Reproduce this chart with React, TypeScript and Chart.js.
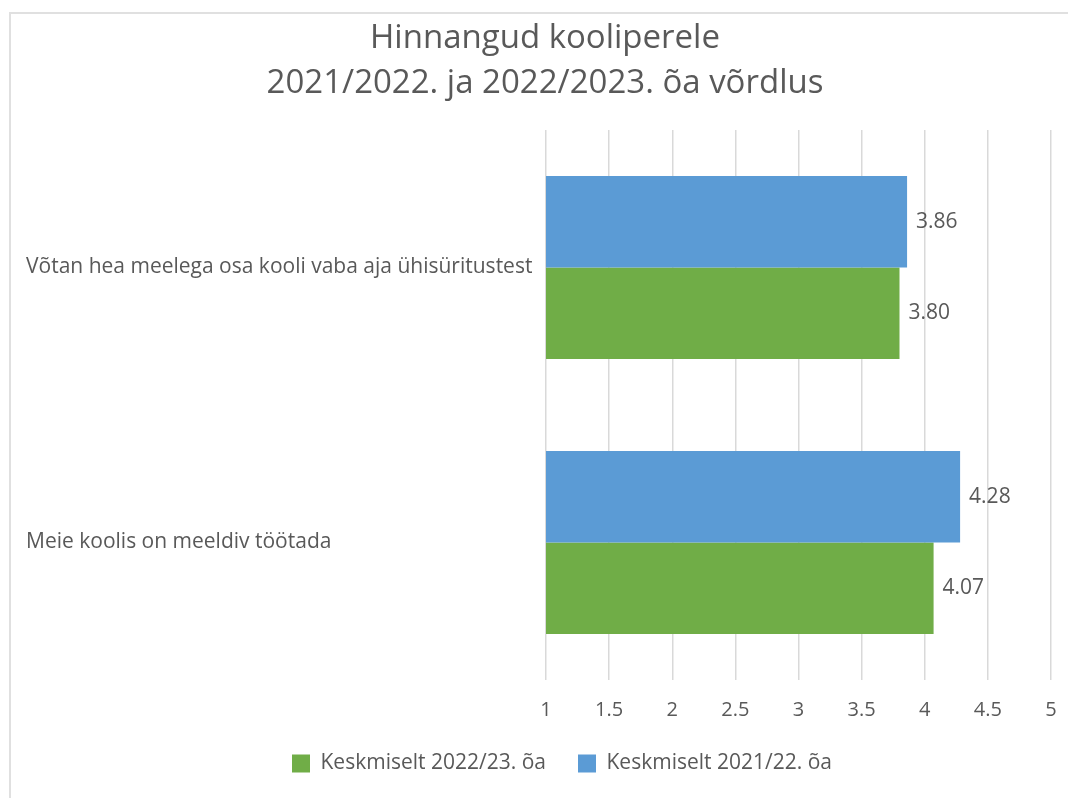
import React, { useEffect, useRef } from "react";
import { Chart, registerables } from "chart.js";

Chart.register(...registerables);

const titleLines = ["Hinnangud kooliperele", "2021/2022. ja 2022/2023. õa võrdlus"];
const categories = [
  "Võtan hea meelega osa kooli vaba aja ühisüritustest",
  "Meie koolis on meeldiv töötada",
];
const seriesNames = ["Keskmiselt 2021/22. õa", "Keskmiselt 2022/23. õa"];
const values2021 = [3.86, 4.28];
const values2022 = [3.8, 4.07];
const xTickValues = [1, 1.5, 2, 2.5, 3, 3.5, 4, 4.5, 5];

const FONT = "'Open Sans', 'Noto Sans', sans-serif";
const TEXT = "#595959";
const BLUE = "#5B9BD5";
const GREEN = "#70AD47";

const framePlugin = {
  id: "frame",
  beforeDraw(chart: any) {
    const ctx = chart.ctx;
    ctx.save();
    ctx.strokeStyle = "#e0e0e0";
    ctx.lineWidth = 2;
    ctx.strokeRect(10, 13, 2000, 2000);
    ctx.restore();
  },
};

const valueLabelPlugin = {
  id: "valueLabels",
  afterDatasetsDraw(chart: any) {
    const ctx = chart.ctx;
    ctx.save();
    ctx.font = `21px ${FONT}`;
    ctx.fillStyle = TEXT;
    ctx.textAlign = "left";
    ctx.textBaseline = "middle";
    chart.data.datasets.forEach((ds: any, i: number) => {
      const meta = chart.getDatasetMeta(i);
      meta.data.forEach((el: any, j: number) => {
        ctx.fillText(Number(ds.data[j]).toFixed(2), el.x + 9, el.y);
      });
    });
    ctx.restore();
  },
};

const legendShiftPlugin = {
  id: "legendShift",
  afterLayout(chart: any) {
    const l = chart.legend;
    if (l) {
      l.left += 17;
      l.right += 17;
    }
  },
};

export default function App() {
  const ref = useRef<HTMLCanvasElement | null>(null);

  useEffect(() => {
    if (!ref.current) return;
    const chart = new Chart(ref.current, {
      type: "bar",
      data: {
        labels: categories,
        datasets: [
          {
            label: seriesNames[0],
            data: values2021,
            backgroundColor: BLUE,
            categoryPercentage: 0.665,
            barPercentage: 1,
          },
          {
            label: seriesNames[1],
            data: values2022,
            backgroundColor: GREEN,
            categoryPercentage: 0.665,
            barPercentage: 1,
          },
        ],
      },
      options: {
        indexAxis: "y",
        responsive: false,
        animation: false,
        layout: { padding: { left: 26, right: 4, top: 0, bottom: 14 } },
        plugins: {
          title: {
            display: true,
            text: titleLines,
            color: TEXT,
            font: { family: FONT, size: 33, weight: "normal", lineHeight: 45 / 33 },
            padding: { top: 16.5, bottom: 23.5 },
          },
          legend: {
            position: "bottom",
            reverse: true,
            labels: {
              boxWidth: 18,
              boxHeight: 18,
              color: TEXT,
              font: { family: FONT, size: 21 },
              padding: 32,
            },
          },
          tooltip: { enabled: false },
        },
        scales: {
          x: {
            min: 1,
            max: 5,
            afterBuildTicks: (s: any) => {
              s.ticks = xTickValues.map((v) => ({ value: v }));
            },
            afterFit: (s: any) => {
              s.height = 41;
              s.paddingRight = 17;
            },
            grid: { color: "#d9d9d9", lineWidth: 1.5, drawTicks: false },
            border: { display: false },
            ticks: {
              padding: 18,
              color: TEXT,
              font: { family: FONT, size: 20 },
              callback: (v: any) => String(v),
            },
          },
          y: {
            afterFit: (s: any) => {
              s.width = 520;
            },
            grid: { display: false },
            border: { display: false },
            ticks: {
              crossAlign: "far",
              color: TEXT,
              font: { family: FONT, size: 21 },
            },
          },
        },
      },
      plugins: [framePlugin, valueLabelPlugin, legendShiftPlugin],
    } as any);
    return () => chart.destroy();
  }, []);

  return (
    <div style={{ position: "absolute", left: 0, top: 0, width: 1068, height: 798, background: "#fff" }}>
      <canvas ref={ref} width={1068} height={798} style={{ display: "block" }} />
    </div>
  );
}
